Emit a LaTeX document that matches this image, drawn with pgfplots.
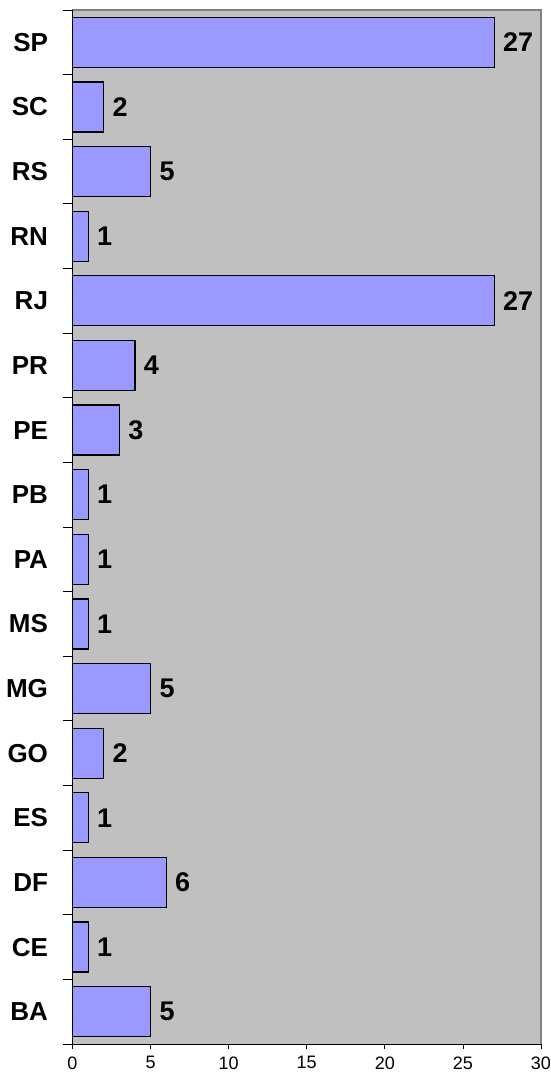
\documentclass[border=0pt]{standalone}
\usepackage{pgfplots}
\pgfplotsset{compat=1.18}
\usepackage{fontspec}
\setmainfont{Liberation Sans}
\definecolor{bgc}{RGB}{192,192,192}
\definecolor{barc}{RGB}{153,153,255}
\definecolor{framec}{RGB}{128,128,128}
\begin{document}
\begin{tikzpicture}[x=1pt,y=1pt]
\path[use as bounding box] (0,0) rectangle (550,1077);
\begin{axis}[
  at={(72.5pt,33pt)}, anchor=south west,
  scale only axis, width=468.5pt, height=1034pt,
  xbar, bar width=50pt,
  xmin=0, xmax=30, ymin=-0.5, ymax=15.5,
  xtick={0,5,...,30},
  ytick={0,...,15},
  yticklabels={BA,CE,DF,ES,GO,MG,MS,PA,PB,PE,PR,RJ,RN,RS,SC,SP},
  minor ytick={-0.5,0.5,...,15.5},
  xtick pos=bottom, ytick pos=left,
  tick align=outside,
  major tick length=5pt, minor tick length=9pt,
  y tick style={draw=none},
  minor y tick style={draw=black, line width=0.8pt},
  x tick style={draw=black, line width=0.8pt},
  axis line style={draw=none},
  axis background/.style={fill=bgc},
  yticklabel style={font=\fontsize{26}{28}\selectfont\bfseries, xshift=-16pt},
  xticklabel style={font=\fontsize{18}{20}\selectfont, yshift=-4pt},
  /pgf/number format/assume math mode=true,
  nodes near coords,
  every node near coord/.append style={font=\fontsize{27}{29}\selectfont\bfseries, anchor=west, xshift=5pt, black},
  clip=false,
]
\addplot[fill=barc, draw=black, line width=1.2pt] coordinates {
 (5,0) (1,1) (6,2) (1,3) (2,4) (5,5) (1,6) (1,7) (1,8) (3,9) (4,10) (27,11) (1,12) (5,13) (2,14) (27,15)
};
\draw[framec, line width=1.2pt] (rel axis cs:0,1) -- (rel axis cs:1,1) -- (rel axis cs:1,0);
\draw[black, line width=1pt] (rel axis cs:0,1) -- (rel axis cs:0,0) -- (rel axis cs:1,0);
\end{axis}
\end{tikzpicture}
\end{document}
